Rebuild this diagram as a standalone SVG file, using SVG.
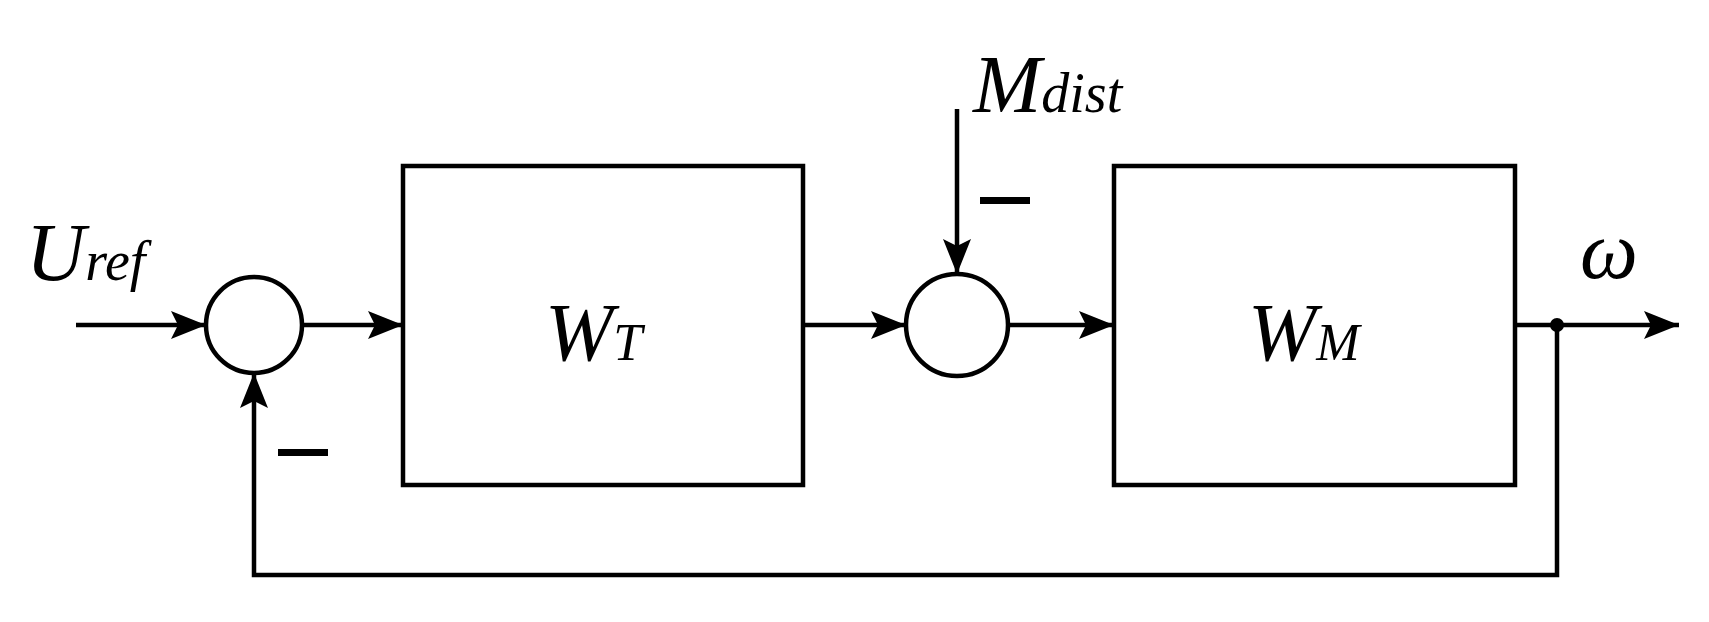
<svg xmlns="http://www.w3.org/2000/svg" width="1709" height="622" viewBox="0 0 1709 622">
<style>
.s{fill:none;stroke:#000;stroke-width:4.5}
.t{font-family:"Liberation Serif",serif;font-style:italic;fill:#000}
.m{fill:#000}
</style>
<defs><marker id="a" markerWidth="10" markerHeight="8" refX="10" refY="4" orient="auto" markerUnits="userSpaceOnUse" viewBox="0 0 10 8"><path d="M0,0L10,4L0,8z"/></marker>
<marker id="b" viewBox="0 0 10 8" refX="10" refY="4" markerWidth="36" markerHeight="28" orient="auto" markerUnits="userSpaceOnUse"><path d="M0,0L10,4L0,8L2,4z" fill="#000"/></marker></defs>
<rect width="1709" height="622" fill="#fff"/>
<g id="wt"><rect class="s" x="403" y="166" width="400" height="319"/><text class="t" x="545" y="360" font-size="82">W<tspan font-size="52">T</tspan></text></g>
<g id="wm"><rect class="s" x="1114" y="166" width="401" height="319"/><text class="t" x="1248" y="360" font-size="82">W<tspan font-size="52">M</tspan></text></g>
<g id="sum1"><circle class="s" cx="254" cy="325" r="48"/><rect class="m" x="278" y="449" width="50" height="7"/></g>
<g id="sum2"><circle class="s" cx="957" cy="325" r="51"/><rect class="m" x="980" y="197" width="50" height="7"/></g>
<g id="labels">
<text class="t" x="26" y="280" font-size="82">U<tspan font-size="56">ref</tspan></text>
<text class="t" x="973" y="112" font-size="82">M<tspan font-size="56">dist</tspan></text>
<text class="t" x="1580" y="278" font-size="82">ω</text>
</g>
<g id="connectors" class="s">
<path d="M76,325H206" marker-end="url(#b)"/>
<path d="M302,325H403" marker-end="url(#b)"/>
<path d="M803,325H906" marker-end="url(#b)"/>
<path d="M1008,325H1114" marker-end="url(#b)"/>
<path d="M1515,325H1679" marker-end="url(#b)"/>
<path d="M957,109V274" marker-end="url(#b)"/>
<path d="M1557,325V575H254V373" marker-end="url(#b)"/>
<circle cx="1557" cy="325" r="7" fill="#000" stroke="none"/>
</g>
</svg>
